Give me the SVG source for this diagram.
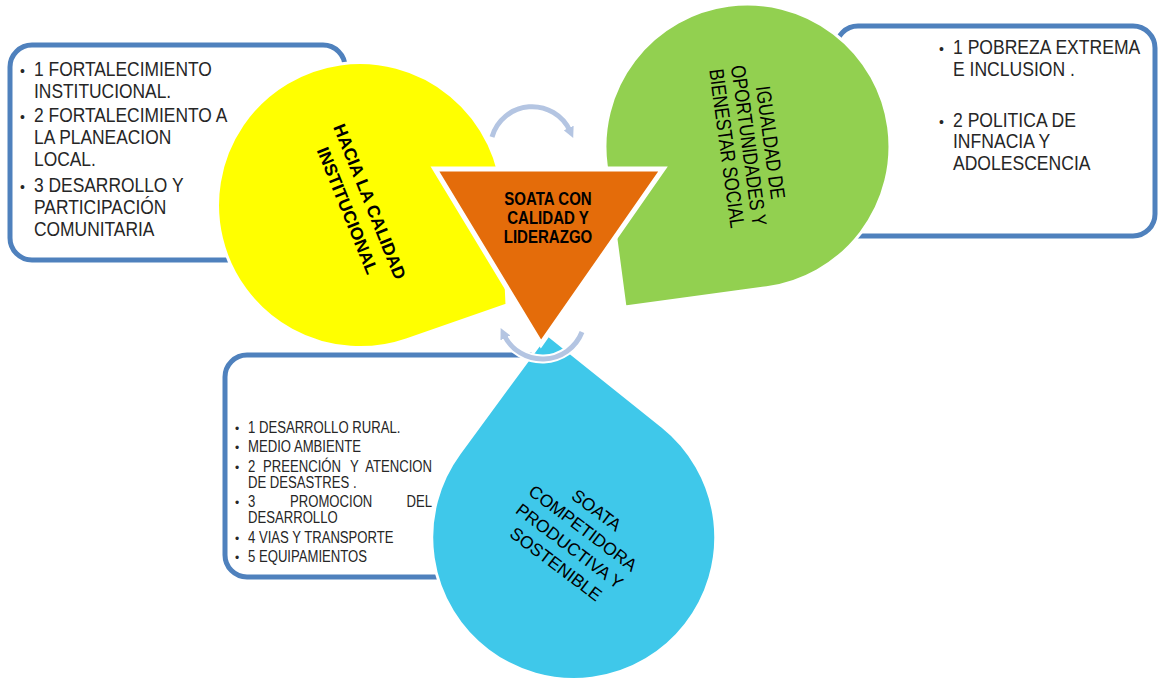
<svg xmlns="http://www.w3.org/2000/svg" width="1159" height="679" viewBox="0 0 1159 679">
<defs>
<style>
.box{fill:#fff;stroke:#4F81BD;stroke-width:5}
.drop{stroke:#fff;stroke-width:3}
.bt{font-family:"Liberation Sans",Arial,sans-serif;fill:#262626}
.arc{fill:none;stroke:#B4C5E2;stroke-width:5}
.halo{fill:none;stroke:#fff;stroke-width:9}
.lbl{font-family:"Liberation Sans",Arial,sans-serif;fill:#000;text-anchor:middle}
</style>
<marker id="ah" viewBox="0 0 10 10" refX="3" refY="5" markerWidth="11" markerHeight="11" markerUnits="userSpaceOnUse" orient="auto">
<path d="M0,0 L10,5 L0,10 z" fill="#B4C5E2"/>
</marker>
</defs>
<rect width="1159" height="679" fill="#fff"/>

<g id="box-left">
<rect class="box" x="10" y="45" width="335" height="215" rx="22"/>
<g class="bt" font-size="14">
<text x="20" y="76">•</text><text x="20" y="122">•</text><text x="20" y="192">•</text>
</g>
<g class="bt" font-size="20" transform="translate(34,0) scale(0.87,1)">
<text x="0" y="76">1 FORTALECIMIENTO</text>
<text x="0" y="98">INSTITUCIONAL.</text>
<text x="0" y="122">2 FORTALECIMIENTO A</text>
<text x="0" y="144">LA PLANEACION</text>
<text x="0" y="166">LOCAL.</text>
<text x="0" y="192">3 DESARROLLO Y</text>
<text x="0" y="214">PARTICIPACIÓN</text>
<text x="0" y="236">COMUNITARIA</text>
</g>
</g>

<g id="box-right">
<rect class="box" x="836" y="26" width="319" height="210" rx="22"/>
<g class="bt" font-size="14">
<text x="939" y="54">•</text><text x="939" y="127">•</text>
</g>
<g class="bt" font-size="19.5" transform="translate(953,0) scale(0.9,1)">
<text x="0" y="54">1 POBREZA EXTREMA</text>
<text x="0" y="76">E INCLUSION .</text>
<text x="0" y="127">2 POLITICA DE</text>
<text x="0" y="148">INFNACIA Y</text>
<text x="0" y="170">ADOLESCENCIA</text>
</g>
</g>

<g id="box-bottom">
<rect class="box" x="225" y="355" width="335" height="222" rx="22"/>
<g class="bt" font-size="12">
<text x="235" y="433">•</text><text x="235" y="452">•</text><text x="235" y="472">•</text>
<text x="235" y="507">•</text><text x="235" y="543">•</text><text x="235" y="562">•</text>
</g>
<g class="bt" font-size="16" transform="translate(248,0) scale(0.82,1)">
<text x="0" y="433">1 DESARROLLO RURAL.</text>
<text x="0" y="452">MEDIO AMBIENTE</text>
<text x="0" y="472">2</text><text x="18.3" y="472">PREENCIÓN</text><text x="124.4" y="472">Y</text><text x="224.4" y="472" text-anchor="end">ATENCION</text>
<text x="0" y="488">DE DESASTRES .</text>
<text x="0" y="507">3</text><text x="51.2" y="507">PROMOCION</text><text x="224.4" y="507" text-anchor="end">DEL</text>
<text x="0" y="523">DESARROLLO</text>
<text x="0" y="543">4 VIAS Y TRANSPORTE</text>
<text x="0" y="562">5 EQUIPAMIENTOS</text>
</g>
</g>

<g id="node-institucional">
<path class="drop" fill="#FFFF00" d="M507,305 L406.5,339.8 A142.5 142.5 0 1 1 502.4,198.8 Z"/>
<g transform="translate(370,201.5) rotate(68)" class="lbl" font-size="17.5" font-weight="bold">
<text x="0" y="6.3">HACIA LA CALIDAD</text>
<text x="0" y="30.3">INSTITUCIONAL</text>
</g>
</g>

<g id="node-igualdad">
<path class="drop" fill="#92D050" d="M625,307 L606.2,165.3 A142.5 142.5 0 1 1 766.7,287.7 Z"/>
<g transform="translate(770.8,142.5) rotate(82.25) scale(0.82,1)" class="lbl" font-size="20.5">
<text x="0" y="7.3">IGUALDAD DE</text>
<text x="0" y="29.3">OPORTUNIDADES Y</text>
<text x="0" y="51.3">BIENESTAR SOCIAL</text>
</g>
</g>

<g id="node-competidora">
<path class="drop" fill="#3FC8EA" d="M547,334 L662.6,426.6 A142 142 0 1 1 459.3,453.3 Z"/>
<g transform="translate(596.7,510) rotate(37)" class="lbl" font-size="17.5">
<text x="0" y="6.3">SOATA</text>
<text x="0" y="28.8">COMPETIDORA</text>
<text x="0" y="51.3">PRODUCTIVA Y</text>
<text x="0" y="73.8">SOSTENIBLE</text>
</g>
</g>

<g id="node-centro">
<polygon points="435,169 663,169 541,344" fill="#E46C0A" stroke="#fff" stroke-width="5" stroke-linejoin="miter"/>
<g class="lbl" font-size="17.5" font-weight="bold" transform="translate(548,0) scale(0.86,1)">
<text x="0" y="205">SOATA CON</text>
<text x="0" y="224">CALIDAD Y</text>
<text x="0" y="243">LIDERAZGO</text>
</g>
</g>

<g id="connectors">
<path class="halo" d="M492,137 A41.7 41.7 0 0 1 570,131"/>
<path class="arc" d="M492,137 A41.7 41.7 0 0 1 570,131" marker-end="url(#ah)"/>
<path class="halo" d="M582,332 A42.6 42.6 0 0 1 504,335"/>
<path class="arc" d="M582,332 A42.6 42.6 0 0 1 504,335" marker-end="url(#ah)"/>
</g>
</svg>
